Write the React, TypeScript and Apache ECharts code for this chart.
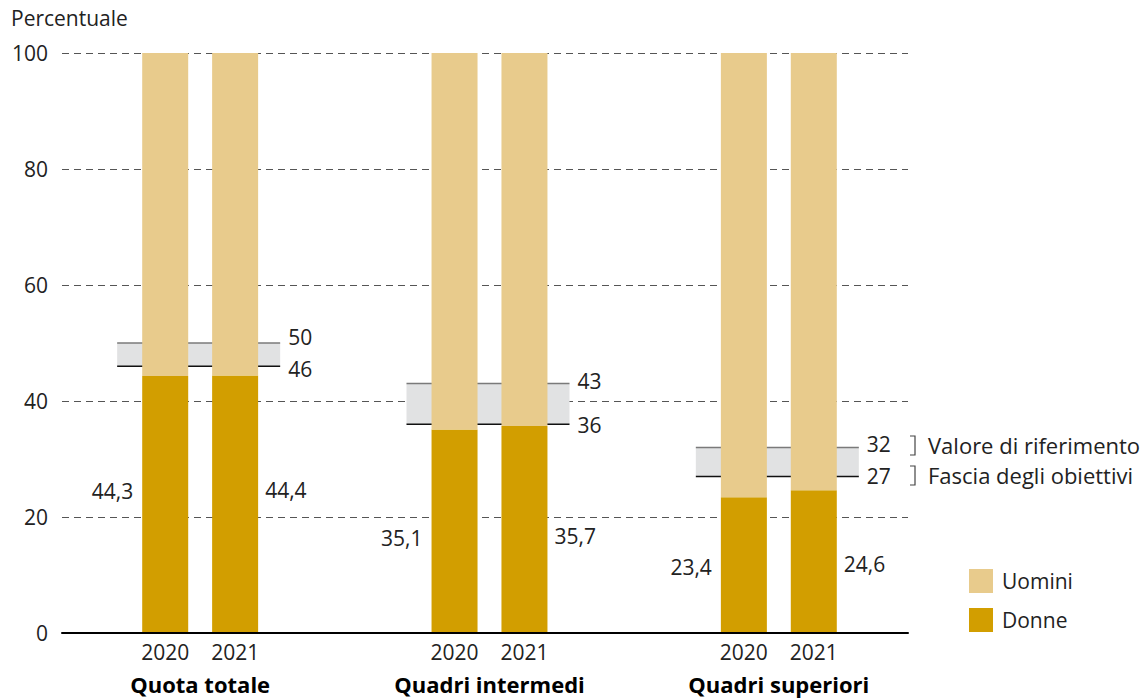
import React, { useEffect, useRef } from 'react';
import * as echarts from 'echarts';

const categories = ['Quota totale', 'Quadri intermedi', 'Quadri superiori'];
const years = ['2020', '2021'];
const donne2020 = [44.3, 35.1, 23.4];
const donne2021 = [44.4, 35.7, 24.6];
const uomini2020 = [55.7, 64.9, 76.6];
const uomini2021 = [55.6, 64.3, 75.4];
const bandLow = [46, 36, 27];
const bandHigh = [50, 43, 32];
const yTicks = { min: 0, max: 100, interval: 20 };
const legendNames = ['Uomini', 'Donne'];
const bandLegend = ['Valore di riferimento', 'Fascia degli obiettivi'];

const LABEL_DY = [-14, 7, 2];
const FONT = '"Open Sans", "Noto Sans", sans-serif';
const FS = 21;
const TXT = '#222222';
const C_UOMINI = '#E8CB8C';
const C_DONNE = '#D29E00';

const fmt = (v: number) => v.toFixed(1).replace('.', ',');

export default function App() {
  const ref = useRef<HTMLDivElement>(null);
  useEffect(() => {
    if (!ref.current) return;
    const chart = echarts.init(ref.current, undefined, { renderer: 'svg' });

    const barBase = {
      type: 'bar',
      xAxisIndex: 1,
      yAxisIndex: 1,
      barWidth: 46,
      barGap: '52%',
      z: 3,
    };

    const option: any = {
      animation: false,
      textStyle: { fontFamily: FONT },
      grid: [
        { left: 62, right: 1141 - 908, top: 53, bottom: 65, containLabel: false },
        { left: 55.5, width: 868, top: 53, bottom: 65, containLabel: false },
      ],
      xAxis: [
        {
          gridIndex: 0,
          type: 'category',
          data: ['a'],
          axisLine: { show: true, lineStyle: { color: '#000', width: 2 } },
          axisTick: { show: false },
          axisLabel: { show: false },
          splitLine: { show: false },
          z: 10,
        },
        {
          gridIndex: 1,
          type: 'category',
          data: categories,
          axisLine: { show: false },
          axisTick: { show: false },
          splitLine: { show: false },
          axisLabel: {
            margin: 7,
            formatter: (v: string) => `{y|${years[0]}}{y|${years[1]}}\n{g|${v}}`,
            rich: {
              y: { width: 70, align: 'center', fontSize: FS, color: TXT, fontFamily: FONT, lineHeight: 24 },
              g: { fontSize: 22, fontWeight: 'bold', color: '#000', fontFamily: FONT, lineHeight: 40 },
            },
          },
        },
      ],
      yAxis: [
        {
          gridIndex: 0,
          type: 'value',
          min: yTicks.min,
          max: yTicks.max,
          interval: yTicks.interval,
          axisLine: { show: false },
          axisTick: { show: false },
          axisLabel: { fontSize: FS, color: TXT, margin: 14, fontFamily: FONT },
          splitLine: { show: true, lineStyle: { color: '#555', type: [7, 5], width: 1 } },
        },
        {
          gridIndex: 1,
          type: 'value',
          min: yTicks.min,
          max: yTicks.max,
          show: false,
          splitLine: { show: false },
        },
      ],
      legend: {
        data: legendNames,
        orient: 'vertical',
        left: 969,
        top: 569,
        itemWidth: 24,
        itemHeight: 24,
        itemGap: 15,
        padding: 0,
        icon: 'rect',
        selectedMode: false,
        textStyle: { fontSize: FS, color: TXT, fontFamily: FONT, padding: [0, 0, 0, 4] },
      },
      graphic: [
        {
          type: 'text',
          left: 11,
          top: 7,
          style: { text: 'Percentuale', fontSize: FS, fill: TXT, fontFamily: FONT },
        },
        {
          type: 'polyline',
          shape: { points: [[910, 436], [915, 436], [915, 455], [910, 455]] },
          style: { stroke: '#444', lineWidth: 1.2, fill: 'none' },
        },
        {
          type: 'polyline',
          shape: { points: [[910, 466], [915, 466], [915, 485], [910, 485]] },
          style: { stroke: '#444', lineWidth: 1.2, fill: 'none' },
        },
        {
          type: 'text',
          x: 928,
          y: 445,
          style: { text: bandLegend[0], fontSize: 22, fill: TXT, fontFamily: FONT, verticalAlign: 'middle' },
        },
        {
          type: 'text',
          x: 928,
          y: 475,
          style: { text: bandLegend[1], fontSize: 22, fill: TXT, fontFamily: FONT, verticalAlign: 'middle' },
        },
      ],
      series: [
        {
          type: 'custom',
          xAxisIndex: 1,
          yAxisIndex: 1,
          z: 1,
          silent: true,
          data: categories.map((c, i) => [i, bandLow[i], bandHigh[i]]),
          renderItem: (params: any, api: any) => {
            const i = api.value(0);
            const lo = api.value(1);
            const hi = api.value(2);
            const pLo = api.coord([i, lo]);
            const pHi = api.coord([i, hi]);
            const cx = pLo[0];
            const left = cx - 83;
            const right = cx + 80;
            const h = pLo[1] - pHi[1];
            let tY = pHi[1] - 3;
            let bY = pLo[1] + 1;
            if (h < 30) {
              const m = (pLo[1] + pHi[1]) / 2;
              tY = m - 18;
              bY = m + 14;
            }
            const ts = { fill: TXT, fontSize: FS, fontFamily: FONT, verticalAlign: 'middle', align: 'left' };
            return {
              type: 'group',
              children: [
                { type: 'rect', shape: { x: left, y: pHi[1], width: right - left, height: h }, style: { fill: '#E1E2E3' } },
                { type: 'line', shape: { x1: left, y1: pHi[1], x2: right, y2: pHi[1] }, style: { stroke: '#7a7a7a', lineWidth: 1.5 } },
                { type: 'line', shape: { x1: left, y1: pLo[1], x2: right, y2: pLo[1] }, style: { stroke: '#111', lineWidth: 1.5 } },
                { type: 'text', x: right + 8, y: tY, style: { ...ts, text: String(hi) } },
                { type: 'text', x: right + 8, y: bY, style: { ...ts, text: String(lo) } },
              ],
            };
          },
        },
        {
          ...barBase,
          name: 'Donne',
          stack: years[0],
          itemStyle: { color: C_DONNE },
          label: { show: true, position: 'left', distance: 9, fontSize: FS, color: TXT, fontFamily: FONT, formatter: (p: any) => fmt(p.value) },
          data: donne2020.map((v, i) => ({ value: v, label: { offset: [0, LABEL_DY[i]] } })),
        },
        {
          ...barBase,
          name: 'Uomini',
          stack: years[0],
          itemStyle: { color: C_UOMINI },
          data: uomini2020,
        },
        {
          ...barBase,
          name: 'Donne',
          stack: years[1],
          itemStyle: { color: C_DONNE },
          label: { show: true, position: 'right', distance: 7, fontSize: FS, color: TXT, fontFamily: FONT, formatter: (p: any) => fmt(p.value) },
          data: donne2021.map((v, i) => ({ value: v, label: { offset: [0, LABEL_DY[i]] } })),
        },
        {
          ...barBase,
          name: 'Uomini',
          stack: years[1],
          itemStyle: { color: C_UOMINI },
          data: uomini2021,
        },
      ],
    };
    chart.setOption(option);
    return () => chart.dispose();
  }, []);
  return <div ref={ref} style={{ position: 'fixed', left: 0, top: 0, width: 1141, height: 698, background: '#fff' }} />;
}
